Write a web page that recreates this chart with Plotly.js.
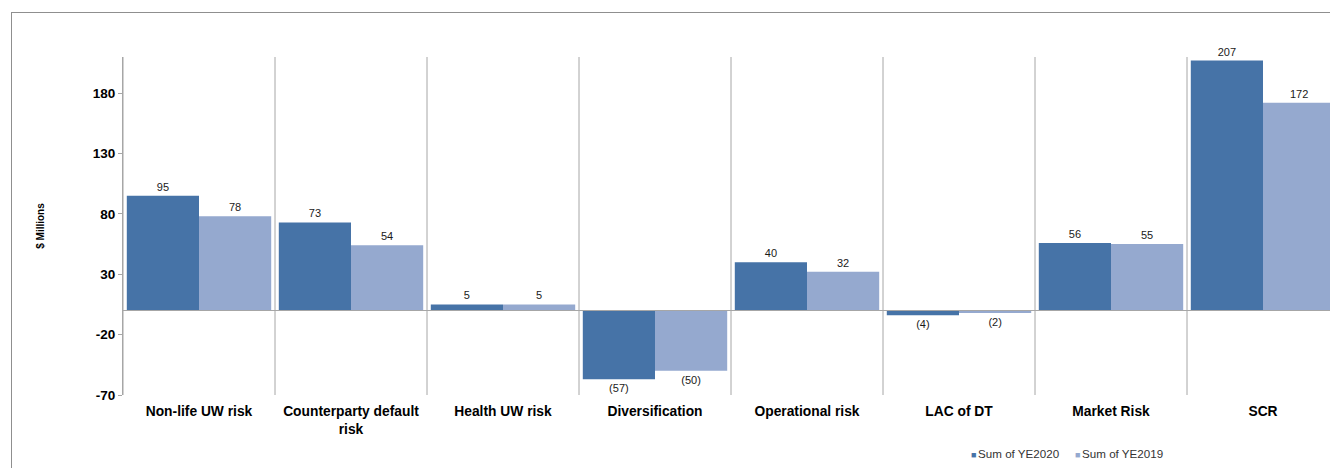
<!DOCTYPE html>
<html>
<head>
<meta charset="utf-8">
<script src="https://cdn.plot.ly/plotly-3.0.1.min.js"></script>
<style>
  html, body { margin:0; padding:0; width:1330px; height:468px; overflow:hidden; background:#fff; }
  #frame { position:absolute; left:11px; top:12px; width:1400px; height:500px; border:1px solid #8f8f8f; box-sizing:border-box; pointer-events:none; z-index:5; }
  #chart { position:absolute; left:0; top:0; width:1360px; height:468px; }
</style>
</head>
<body>
<div id="chart"></div>
<div id="frame"></div>
<script>
const categories = ["Non-life UW risk", "Counterparty default<br>risk", "Health UW risk", "Diversification", "Operational risk", "LAC of DT", "Market Risk", "SCR"];
const ye2020 = [95, 73, 5, -57, 40, -4, 56, 207];
const ye2019 = [78, 54, 5, -50, 32, -2, 55, 172];
const seriesNames = ["Sum of YE2020", "Sum of YE2019"];
const yTicks = [-70, -20, 30, 80, 130, 180];

const darkC = "#4673A7";
const lightC = "#95A9CF";
const fmt = v => v < 0 ? "(" + Math.abs(v) + ")" : String(v);

function barTrace(vals, color, name) {
  return {
    type: "bar", x: categories, y: vals, name: name, showlegend: false,
    marker: { color: color },
    text: vals.map(fmt), textposition: "outside", cliponaxis: false,
    textfont: { family: "Liberation Sans, Arial", size: 11, color: "#1a1a1a" },
    hoverinfo: "skip"
  };
}

const traces = [
  barTrace(ye2020, darkC, seriesNames[0]),
  barTrace(ye2019, lightC, seriesNames[1])
];

const shapes = [];
for (let i = 0; i <= categories.length; i++) {
  shapes.push({ type: "line", xref: "x", yref: "paper", x0: i - 0.5, x1: i - 0.5, y0: 0, y1: 1,
    line: { color: "#a6a6a6", width: 1 }, layer: "below" });
}
shapes.push({ type: "line", xref: "paper", yref: "y", x0: 0, x1: 1, y0: 0, y1: 0,
  line: { color: "#a6a6a6", width: 1 }, layer: "above" });

// legend drawn as annotations (small squares + names)
const legendColors = [darkC, lightC];
const legendX = [0.6955, 0.7815];
const annotations = seriesNames.map((n, i) => ({
  xref: "paper", yref: "paper", x: legendX[i], y: -0.172, xanchor: "left", yanchor: "middle",
  showarrow: false,
  text: "<span style='color:" + legendColors[i] + ";font-size:9px'>■</span><span style='font-size:6px'> </span>" + n,
  font: { family: "Liberation Sans, Arial", size: 11.6, color: "#333" }
}));

const layout = {
  width: 1360, height: 468,
  margin: { l: 123, r: 21, t: 57, b: 73, autoexpand: false },
  paper_bgcolor: "#fff", plot_bgcolor: "#fff",
  font: { family: "Liberation Sans, Arial", color: "#000" },
  barmode: "group", bargap: 0.05, bargroupgap: 0,
  showlegend: false,
  xaxis: {
    type: "category", range: [-0.5, categories.length - 0.5],
    showgrid: false, zeroline: false, showline: false, ticks: "",
    ticklabelstandoff: 6,
    tickfont: { size: 13.8, color: "#000", weight: "bold" }
  },
  yaxis: {
    range: [-70, 210], tickvals: yTicks, ticktext: yTicks.map(String),
    showgrid: false, zeroline: false, showline: true, linecolor: "#a6a6a6", linewidth: 1,
    ticks: "outside", ticklen: 4, tickcolor: "#a6a6a6",
    tickfont: { size: 13.5, color: "#000", weight: "bold" },
    title: { text: "$ Millions", font: { size: 10, color: "#000", weight: "bold" }, standoff: 46 }
  },
  shapes: shapes,
  annotations: annotations
};

Plotly.newPlot("chart", traces, layout, { staticPlot: true, displayModeBar: false });
</script>
</body>
</html>
